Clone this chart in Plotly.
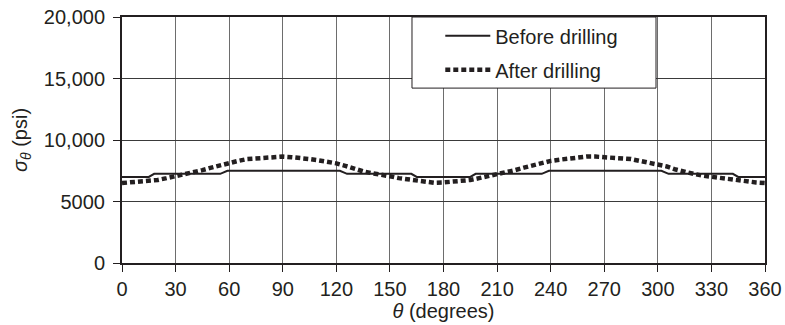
import plotly.graph_objects as go

# Hoop stress around the borehole wall, before and after drilling
theta_before = [0, 15, 18, 55, 59, 122, 126, 162, 165, 195, 198, 235, 239, 302, 306, 342, 345, 360]
sigma_before = [7000, 7000, 7250, 7250, 7500, 7500, 7250, 7250, 7000, 7000, 7250, 7250, 7500, 7500, 7250, 7250, 7000, 7000]

theta_after = list(range(0, 365, 5))
sigma_after = [6500, 6550, 6650, 6700, 6750, 6900, 7050, 7200, 7350, 7550,
               7750, 7950, 8150, 8300, 8450, 8500, 8600, 8600, 8650, 8600,
               8550, 8450, 8350, 8250, 8100, 7900, 7650, 7450, 7300, 7200,
               7050, 6900, 6800, 6680, 6580, 6520, 6550, 6600, 6650, 6750,
               6900, 7050, 7200, 7400, 7550, 7750, 7950, 8150, 8300, 8400,
               8500, 8600, 8650, 8650, 8600, 8600, 8550, 8450, 8300, 8150,
               8050, 7850, 7600, 7400, 7250, 7100, 7000, 6950, 6850, 6750,
               6650, 6550, 6500]

x_ticks = list(range(0, 361, 30))
y_ticks = [0, 5000, 10000, 15000, 20000]
y_tick_labels = ["0", "5000", "10,000", "15,000", "20,000"]

ink = "#231f20"
font = "Liberation Sans, Arial, sans-serif"

fig = go.Figure()
fig.add_trace(go.Scatter(
    x=theta_before, y=sigma_before, mode="lines", name="Before drilling",
    legendgroup="before", line=dict(color=ink, width=2),
))
fig.add_trace(go.Scatter(
    x=theta_after, y=sigma_after, mode="lines", name="After drilling",
    legendgroup="after", line=dict(color=ink, width=4.5, dash="5px,3px"),
))

# Framed legend box covering the grid behind it
fig.add_shape(type="rect", xref="paper", yref="paper",
              x0=0.451, x1=0.8305, y0=0.711, y1=1.0,
              fillcolor="white", line=dict(color=ink, width=1), layer="above")

fig.update_layout(
    width=785, height=325,
    margin=dict(l=122, r=20, t=17, b=62, autoexpand=False),
    paper_bgcolor="white", plot_bgcolor="white",
    font=dict(family=font, size=20, color=ink),
    showlegend=True,
    legend=dict(x=0.495, y=1.003, xanchor="left", yanchor="top",
                bgcolor="rgba(0,0,0,0)", borderwidth=0,
                font=dict(size=20, color=ink), itemwidth=45,
                tracegroupgap=5, traceorder="grouped"),
    xaxis=dict(
        range=[0, 360], tickvals=x_ticks, ticks="outside", ticklen=7,
        tickcolor=ink, showgrid=True, gridcolor="#6d6d6d", gridwidth=1,
        showline=True, linecolor=ink, linewidth=2, mirror=True,
        zeroline=False, tickfont=dict(size=20), automargin=False,
        title=dict(text="<i>θ</i> (degrees)", font=dict(size=20), standoff=2),
    ),
    yaxis=dict(
        range=[0, 20000], tickvals=y_ticks, ticktext=y_tick_labels,
        ticks="outside", ticklen=7, tickcolor=ink, showgrid=True,
        gridcolor="#3a3a3a", gridwidth=1, showline=True, linecolor=ink,
        linewidth=2, mirror=True, zeroline=False, tickfont=dict(size=20),
        ticklabelstandoff=4, automargin=False,
        title=dict(text="<i>σ</i><sub><i>θ</i></sub> (psi)", font=dict(size=20), standoff=11),
    ),
)

fig.write_html("out.html")
